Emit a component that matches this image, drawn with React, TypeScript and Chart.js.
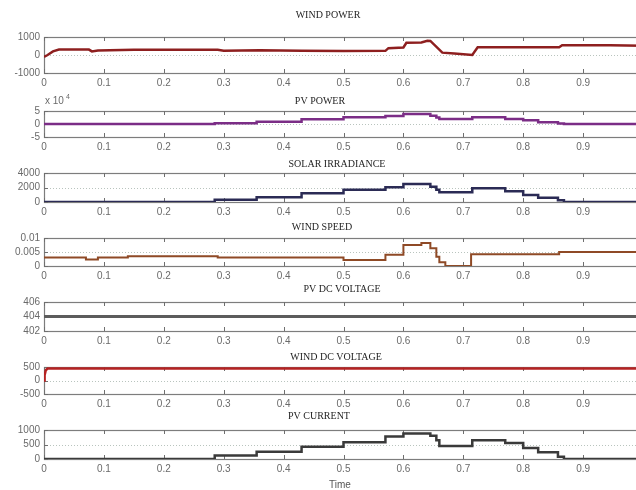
import React, { useEffect, useRef } from "react";
import { Chart, registerables } from "chart.js";
Chart.register(...registerables);

// ---------- data ----------
const xTicks = [0, 0.1, 0.2, 0.3, 0.4, 0.5, 0.6, 0.7, 0.8, 0.9, 1];

const windPowerT = [0, 0.006, 0.015, 0.025, 0.075, 0.08, 0.09, 0.15, 0.29, 0.3, 0.36, 0.43, 0.5, 0.57, 0.575, 0.6, 0.605, 0.63, 0.64, 0.645, 0.665, 0.685, 0.715, 0.724, 0.86, 0.865, 0.945, 1.0];
const windPowerV = [-100, 0, 200, 300, 300, 200, 250, 290, 290, 240, 270, 240, 220, 230, 380, 420, 680, 700, 790, 780, 130, 80, 0, 430, 430, 540, 540, 520];

const pvStepT = [0, 0.285, 0.355, 0.43, 0.5, 0.57, 0.6, 0.645, 0.655, 0.66, 0.715, 0.77, 0.8, 0.825, 0.858, 0.868, 1.0];
const pvPowerV = [0, 0.3, 0.9, 1.8, 2.6, 3.1, 3.8, 3.2, 2.5, 1.9, 2.6, 1.9, 1.4, 0.7, 0.2, 0, 0];
const solarV = [0, 300, 650, 1200, 1700, 2050, 2480, 2100, 1700, 1340, 1900, 1470, 960, 570, 240, 0, 0];
const pvCurrentV = [0, 120, 250, 420, 580, 780, 880, 800, 650, 450, 650, 550, 380, 230, 80, 0, 0];

const windSpeedT = [0, 0.07, 0.09, 0.14, 0.29, 0.5, 0.57, 0.6, 0.63, 0.645, 0.655, 0.66, 0.67, 0.713, 0.86, 1.0];
const windSpeedV = [0.003, 0.0023, 0.003, 0.0035, 0.003, 0.0021, 0.004, 0.0075, 0.0082, 0.0063, 0.0033, 0.0013, 0, 0.0042, 0.005, 0.005];

const pvDcT = [0, 1];
const pvDcV = [404, 404];

const windDcT = [0, 0.001, 0.003, 0.006, 1];
const windDcV = [0, 200, 380, 440, 440];

const titles = ["WIND POWER", "PV POWER", "SOLAR IRRADIANCE", "WIND SPEED", "PV DC VOLTAGE", "WIND DC VOLTAGE", "PV CURRENT"];
const yTickSets = [
  [-1000, 0, 1000],
  [-5, 0, 5],
  [0, 2000, 4000],
  [0, 0.005, 0.01],
  [402, 404, 406],
  [-500, 0, 500],
  [0, 500, 1000],
];
const xAxisLabel = "Time";
const pvPowerExponent = "4";

const zip = (t: number[], v: number[]) => t.map((x, i) => ({ x, y: v[i] }));

type Panel = {
  title: string;
  titleX: number;
  titleY: number;
  boxTop: number;
  boxBottom: number;
  yTicks: number[];
  data: { x: number; y: number }[];
  color: string;
  width: number;
  stepped: boolean;
  exponent?: boolean;
  xlabel?: string;
};

const PANELS: Panel[] = [
  { title: titles[0], titleX: 328, titleY: 15, boxTop: 37, boxBottom: 73, yTicks: yTickSets[0], data: zip(windPowerT, windPowerV), color: "#8e1f1f", width: 2.5, stepped: false },
  { title: titles[1], titleX: 320, titleY: 101, boxTop: 111, boxBottom: 137, yTicks: yTickSets[1], data: zip(pvStepT, pvPowerV), color: "#7b2d86", width: 2.5, stepped: true, exponent: true },
  { title: titles[2], titleX: 337, titleY: 164, boxTop: 173, boxBottom: 202, yTicks: yTickSets[2], data: zip(pvStepT, solarV), color: "#2b2b55", width: 2.5, stepped: true },
  { title: titles[3], titleX: 322, titleY: 227, boxTop: 238, boxBottom: 266, yTicks: yTickSets[3], data: zip(windSpeedT, windSpeedV), color: "#8f4a26", width: 2, stepped: true },
  { title: titles[4], titleX: 342, titleY: 289, boxTop: 302, boxBottom: 331, yTicks: yTickSets[4], data: zip(pvDcT, pvDcV), color: "#5c5c5c", width: 3, stepped: false },
  { title: titles[5], titleX: 336, titleY: 357, boxTop: 367, boxBottom: 394, yTicks: yTickSets[5], data: zip(windDcT, windDcV), color: "#b52222", width: 2.5, stepped: false },
  { title: titles[6], titleX: 319, titleY: 416, boxTop: 430, boxBottom: 459, yTicks: yTickSets[6], data: zip(pvStepT, pvCurrentV), color: "#3a3a3a", width: 2.5, stepped: true, xlabel: xAxisLabel },
];

const CANVAS_W = 680;
const PLOT_LEFT = 44;
const PLOT_RIGHT = 643;
const TICK_FONT = { size: 10, family: "'Liberation Sans', Arial, sans-serif" };
const TICK_COLOR = "#6a6a6a";

const fmt = (v: number) => String(Math.round(v * 10000) / 10000);

function PanelChart({ p }: { p: Panel }) {
  const ref = useRef<HTMLCanvasElement | null>(null);
  const canvasTop = p.titleY - 9;
  const padTop = p.boxTop - canvasTop;
  const boxH = p.boxBottom - p.boxTop;
  const bottomExtra = p.xlabel ? 34 : 20;
  const height = padTop + boxH + bottomExtra;

  useEffect(() => {
    if (!ref.current) return;
    const deco = {
      id: "deco",
      beforeDatasetsDraw(chart: any) {
        const { ctx, chartArea: ca, scales } = chart;
        const x = scales.x;
        const y = scales.y;
        ctx.save();
        // middle dotted grid line
        const mid = p.yTicks[1];
        const my = Math.round(y.getPixelForValue(mid)) + 0.5;
        ctx.strokeStyle = "#b9c4be";
        ctx.lineWidth = 1;
        ctx.setLineDash([1, 2]);
        ctx.beginPath();
        ctx.moveTo(ca.left, my);
        ctx.lineTo(ca.right, my);
        ctx.stroke();
        ctx.setLineDash([]);
        // frame
        ctx.strokeStyle = "#7d7d7d";
        ctx.lineWidth = 1.2;
        ctx.strokeRect(ca.left + 0.5, ca.top + 0.5, ca.right - ca.left, ca.bottom - ca.top);
        // inward ticks
        ctx.strokeStyle = "#6f6f6f";
        ctx.lineWidth = 1;
        ctx.beginPath();
        for (const v of xTicks) {
          const px = Math.round(x.getPixelForValue(v)) + 0.5;
          ctx.moveTo(px, ca.top);
          ctx.lineTo(px, ca.top + 4);
          ctx.moveTo(px, ca.bottom);
          ctx.lineTo(px, ca.bottom - 4);
        }
        for (const v of p.yTicks) {
          const py = Math.round(y.getPixelForValue(v)) + 0.5;
          ctx.moveTo(ca.left, py);
          ctx.lineTo(ca.left + 4, py);
        }
        ctx.stroke();
        ctx.restore();
      },
      afterDraw(chart: any) {
        const { ctx } = chart;
        ctx.save();
        ctx.fillStyle = "#1e1e1e";
        ctx.textAlign = "center";
        ctx.textBaseline = "middle";
        ctx.font = "10px 'Liberation Serif', 'Times New Roman', serif";
        ctx.fillText(p.title, p.titleX, p.titleY - canvasTop);
        if (p.exponent) {
          ctx.fillStyle = TICK_COLOR;
          ctx.textAlign = "left";
          ctx.font = "10px 'Liberation Sans', Arial, sans-serif";
          ctx.fillText("x 10", 45, 101 - canvasTop);
          ctx.font = "7px 'Liberation Sans', Arial, sans-serif";
          ctx.fillText(pvPowerExponent, 66, 97 - canvasTop);
        }
        if (p.xlabel) {
          ctx.fillStyle = "#555";
          ctx.textAlign = "center";
          ctx.font = "10px 'Liberation Sans', Arial, sans-serif";
          ctx.fillText(p.xlabel, 340, 485 - canvasTop);
        }
        ctx.restore();
      },
    };

    const chart = new Chart(ref.current, {
      type: "line",
      data: {
        datasets: [
          {
            data: p.data,
            borderColor: p.color,
            borderWidth: p.width,
            pointRadius: 0,
            // Chart.js "before": hold previous value until the next point (zero-order hold)
            stepped: p.stepped ? "before" : false,
            tension: 0,
            fill: false,
          } as any,
        ],
      },
      options: {
        animation: false,
        responsive: false,
        devicePixelRatio: 1,
        layout: { padding: { top: padTop, left: 0, right: CANVAS_W - PLOT_RIGHT, bottom: 0 } },
        plugins: { legend: { display: false }, tooltip: { enabled: false }, title: { display: false } },
        scales: {
          x: {
            type: "linear",
            min: 0,
            max: 1,
            grid: { display: false, drawTicks: false },
            border: { display: false },
            afterBuildTicks: (s: any) => {
              s.ticks = xTicks.map((v) => ({ value: v }));
            },
            afterFit: (s: any) => {
              s.height = bottomExtra;
            },
            ticks: {
              autoSkip: false,
              maxRotation: 0,
              padding: 4,
              font: TICK_FONT,
              color: TICK_COLOR,
              callback: (v: any) => fmt(Number(v)),
            },
          },
          y: {
            type: "linear",
            min: p.yTicks[0],
            max: p.yTicks[2],
            grid: { display: false, drawTicks: false },
            border: { display: false },
            afterBuildTicks: (s: any) => {
              s.ticks = p.yTicks.map((v) => ({ value: v }));
            },
            afterFit: (s: any) => {
              s.width = PLOT_LEFT;
            },
            ticks: {
              autoSkip: false,
              padding: 4,
              font: TICK_FONT,
              color: TICK_COLOR,
              callback: (v: any) => fmt(Number(v)),
            },
          },
        },
      },
      plugins: [deco],
    });
    return () => chart.destroy();
  }, []);

  return (
    <canvas
      ref={ref}
      width={CANVAS_W}
      height={height}
      style={{ position: "absolute", left: 0, top: canvasTop, width: CANVAS_W, height }}
    />
  );
}

export default function App() {
  return (
    <div
      style={{
        position: "absolute",
        left: 0,
        top: 0,
        width: 636,
        height: 490,
        overflow: "hidden",
        background: "#ffffff",
      }}
    >
      {PANELS.map((p) => (
        <PanelChart key={p.title} p={p} />
      ))}
    </div>
  );
}
